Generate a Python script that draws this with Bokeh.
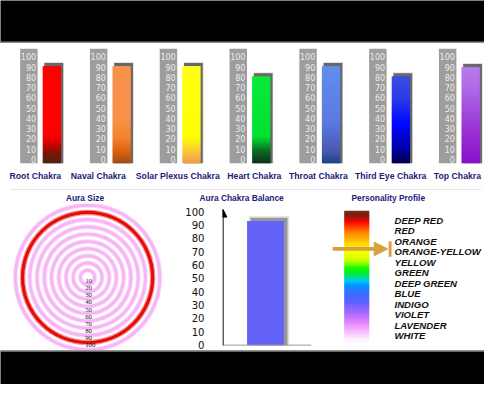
import numpy as np
from bokeh.plotting import figure
from bokeh.models import Range1d, FixedTicker, Arrow, NormalHead, TeeHead, Span
from bokeh.layouts import column, row
from bokeh.core.properties import value
from bokeh.embed import file_html
from bokeh.resources import INLINE

# ---------------- data ----------------
chakras = ["Root Chakra", "Naval Chakra", "Solar Plexus Chakra", "Heart Chakra",
           "Throat Chakra", "Third Eye Chakra", "Top Chakra"]
chakra_values = [91, 91, 91, 81, 91, 81, 90]
scale_ticks = [0, 10, 20, 30, 40, 50, 60, 70, 80, 90, 100]

aura_rings = [10, 20, 30, 40, 50, 60, 70, 80, 90, 100]
aura_size = 90

balance_value = 93

personality_levels = ["DEEP RED", "RED", "ORANGE", "ORANGE-YELLOW", "YELLOW", "GREEN",
                      "DEEP GREEN", "BLUE", "INDIGO", "VIOLET", "LAVENDER", "WHITE"]
personality = "ORANGE-YELLOW"

# ---------------- styles ----------------
NAVY = "#1c1c78"
FONT = "Liberation Sans"
GOLD = "#d6a13e"
TITLE_SIZE = "8.4px"

# small horizontal nudges of the chakra names (in panel widths)
label_nudge = [-0.055, -0.153, -0.014, 0.083, 0.0, 0.035, -0.008]

chakra_stops = [
    [(-4, "#4e2410"), (6, "#7c1408"), (16, "#d80000"), (24, "#ff0000"), (120, "#ff0000")],
    [(-4, "#9c4a18"), (8, "#de6210"), (22, "#f2862e"), (40, "#f8914a"), (120, "#f8924c")],
    [(-4, "#f59a45"), (8, "#fac93a"), (22, "#ffff00"), (85, "#ffff10"), (120, "#ffff70")],
    [(-4, "#0e3018"), (8, "#0a6a26"), (22, "#00e030"), (120, "#10f040")],
    [(-4, "#15458a"), (8, "#4a58b0"), (35, "#5a78e0"), (120, "#6898f8")],
    [(-4, "#000048"), (12, "#0000b0"), (35, "#0008ff"), (60, "#2c3ce8"), (120, "#5868d0")],
    [(-4, "#8a0ecc"), (30, "#9a34d8"), (70, "#b06ae8"), (120, "#c890f8")],
]

spectrum_stops = [  # (offset below the DEEP RED row in 1/11 row units, colour)
    (-10, "#6b3512"), (-5, "#7a2010"), (-1, "#c01008"), (2, "#ff0000"), (6, "#ff2a00"),
    (10, "#ff6000"), (15, "#ff9000"), (21, "#ffb800"), (27, "#ffe000"), (31, "#ffff00"),
    (39, "#e8ff00"), (45, "#a0ff00"), (50, "#20ff00"), (55, "#00f020"), (60, "#00e080"),
    (64, "#00c8ff"), (69, "#0098ff"), (74, "#2878ff"), (80, "#4468ff"), (86, "#5c62ff"),
    (91, "#8064ff"), (97, "#a46aff"), (103, "#c878ff"), (109, "#e88cff"), (114, "#f4a8ff"),
    (120, "#fbd0ff"), (125, "#fff0ff"), (130, "#ffffff")]


def hex2rgb(h):
    return [int(h[i:i + 2], 16) for i in (1, 3, 5)]


def gradient_image(stops, ys):
    """RGBA column image; row 0 is the bottom of the image."""
    pos = np.array([s[0] for s in stops], float)
    cols = np.array([hex2rgb(s[1]) for s in stops], float)
    img = np.zeros((len(ys), 1), dtype=np.uint32)
    view = img.view(dtype=np.uint8).reshape((len(ys), 1, 4))
    for k in range(3):
        view[:, 0, k] = np.round(np.interp(ys, pos, cols[:, k])).astype(np.uint8)
    view[:, 0, 3] = 255
    return img


def base_fig(**kw):
    p = figure(output_backend="svg", toolbar_location=None, **kw)
    p.outline_line_color = None
    p.grid.visible = False
    p.background_fill_color = "white"
    p.border_fill_color = "white"
    return p


def style_title(p, align="center", offset=0):
    p.title.align = align
    p.title.offset = offset
    p.title.standoff = 1
    p.title.text_font = FONT
    p.title.text_font_style = "bold"
    p.title.text_font_size = TITLE_SIZE
    p.title.text_color = NAVY


def band_fig(height, strip_top, strip_bottom, strip_color):
    p = base_fig(width=484, height=height, x_range=Range1d(0, 1), y_range=Range1d(0, height),
                 x_axis_location=None, y_axis_location=None, min_border=0)
    p.background_fill_color = "black"
    p.border_fill_color = "black"
    p.quad(left=0, right=1, bottom=strip_bottom, top=strip_top, fill_color=strip_color,
           line_color=None)
    return p


# ---------------- top band ----------------
top_band = band_fig(43, 2, 0, "#8c8c8c")

# ---------------- chakra row ----------------
PANEL_PX = 69.8
X_OFF = 38.7
Y0, Y1 = -3.9, 112.95
cf = base_fig(width=484, height=140,
              x_range=Range1d(-X_OFF / PANEL_PX, (484 - X_OFF) / PANEL_PX),
              y_range=Range1d(Y0, Y1), y_axis_location=None,
              min_border_left=0, min_border_right=0, min_border_top=0, min_border_bottom=11)
idx = np.arange(len(chakras))
vals = np.array(chakra_values, float)

col_l, col_r = -0.273, -0.023
bar_l, bar_r = 0.05, 0.313
cf.quad(left=idx + col_l, right=idx + col_r, bottom=Y0, top=107.8,
        fill_color="#9d9d9d", line_color=None)
tx = np.repeat(idx, len(scale_ticks)) - 0.045
ty = np.tile(scale_ticks, len(chakras))
cf.text(x=tx, y=ty, text=[str(t) for t in ty], text_align="right", text_baseline="middle",
        text_font=value("DejaVu Sans"), text_font_size="8px", text_color="#ececec")

# drop shadows
cf.quad(left=idx + bar_l + 0.02, right=idx + bar_r + 0.04, bottom=Y0, top=vals + 3.6,
        fill_color="#888888", fill_alpha=0.35, line_color=None)
cf.quad(left=idx + bar_l + 0.025, right=idx + bar_r + 0.03, bottom=Y0, top=vals + 3.0,
        fill_color="#555555", fill_alpha=0.85, line_color=None)

images, xs, dhs = [], [], []
for i, v in enumerate(chakra_values):
    n = 160
    ys = Y0 + (np.arange(n) + 0.5) * (v - Y0) / n
    images.append(gradient_image(chakra_stops[i], ys))
    xs.append(i + bar_l)
    dhs.append(v - Y0)
cf.image_rgba(image=images, x=xs, y=Y0, dw=bar_r - bar_l, dh=dhs)

name_ticks = [round(float(i + d), 4) for i, d in zip(idx, label_nudge)]
cf.xaxis.ticker = FixedTicker(ticks=name_ticks)
cf.xaxis.major_label_overrides = {t: n for t, n in zip(name_ticks, chakras)}
cf.xaxis.axis_line_color = None
cf.xaxis.major_tick_line_color = None
cf.xaxis.minor_tick_line_color = None
cf.xaxis.major_label_standoff = 1
cf.xaxis.major_label_text_font = FONT
cf.xaxis.major_label_text_font_style = "bold"
cf.xaxis.major_label_text_font_size = "8.7px"
cf.xaxis.major_label_text_color = NAVY

# ---------------- separator ----------------
sep = base_fig(width=484, height=7, x_range=Range1d(0, 484), y_range=Range1d(0, 7),
               x_axis_location=None, y_axis_location=None, min_border=0)
sep.quad(left=[9.7, 9.7], right=[481, 481], bottom=[4.7, 0.9], top=[5.7, 2.8],
         fill_color=["#9a9a9a", "#cccccc"], line_color=None)

# ---------------- bottom row: common frame borders ----------------
ROW_H = 160
TOP_B = 12

# ---------------- aura size ----------------
S = 0.723  # px per unit
CX, CY = 87.1, 86.5
af = base_fig(width=169, height=ROW_H, title="Aura Size",
              x_range=Range1d(-CX / S, (169 - CX) / S),
              y_range=Range1d(-(ROW_H - CY) / S, (CY - TOP_B) / S),
              x_axis_location=None, y_axis_location=None,
              min_border_left=0, min_border_right=0, min_border_top=TOP_B, min_border_bottom=0)
style_title(af, "center", 0)
pink = [r for r in aura_rings if r != aura_size]
af.annulus(x=0, y=0, inner_radius=[r - 3.4 for r in pink], outer_radius=[r + 3.4 for r in pink],
           fill_color="#fcdcfc", line_color=None)
af.annulus(x=0, y=0, inner_radius=[r - 2.0 for r in pink], outer_radius=[r + 2.0 for r in pink],
           fill_color="#f6b6f6", line_color=None)
af.annulus(x=0, y=0, inner_radius=aura_size - 3.8, outer_radius=aura_size + 3.8,
           fill_color="#f49a9a", line_color=None)
af.annulus(x=0, y=0, inner_radius=aura_size - 2.2, outer_radius=aura_size + 2.2,
           fill_color="#e60a0a", line_color=None)
af.text(x=-3.3, y=[-r for r in aura_rings], text=[str(r) for r in aura_rings],
        text_align="left", text_baseline="middle", y_offset=-3.9,
        text_font=value("Liberation Serif"), text_font_size="6.8px", text_color="#222222")

# ---------------- aura chakra balance ----------------
PXB = 1.344
BASE_Y = 154.6  # baseline position from the top of the panel
bf = base_fig(width=150, height=ROW_H, title="Aura Chakra Balance",
              x_range=Range1d(0, 1),
              y_range=Range1d(-(ROW_H - BASE_Y) / PXB, (BASE_Y - TOP_B) / PXB),
              x_axis_location=None,
              min_border_left=53, min_border_right=8, min_border_top=TOP_B, min_border_bottom=0)
style_title(bf, "left", -23)
bf.yaxis.ticker = FixedTicker(ticks=scale_ticks)
bf.yaxis.axis_line_color = None
bf.yaxis.major_tick_line_color = None
bf.yaxis.minor_tick_line_color = None
bf.yaxis.major_label_standoff = 12
bf.yaxis.major_label_text_font = "DejaVu Sans"
bf.yaxis.major_label_text_font_size = "10.1px"
bf.yaxis.major_label_text_color = "#111111"
bf.add_layout(Span(location=0, dimension="width", line_color="#9a9a9a", line_width=1))

bx, bw = 0.483, 0.414
bf.quad(left=bx - bw / 2 + 0.02, right=bx + bw / 2 + 0.06, bottom=0, top=balance_value + 3.6,
        fill_color="#999999", fill_alpha=0.3, line_color=None)
bf.quad(left=bx - bw / 2 + 0.04, right=bx + bw / 2 + 0.04, bottom=0, top=balance_value + 2.4,
        fill_color="#777777", fill_alpha=0.7, line_color=None)
bf.vbar(x=bx, width=bw, bottom=0, top=balance_value, fill_color="#6363f7", line_color=None)
bf.add_layout(Arrow(end=NormalHead(size=7.7, fill_color="black", line_color="black", line_width=1),
                    x_start=0.006, y_start=0, x_end=0.006, y_end=101.7,
                    line_color="black", line_width=1.2))

# ---------------- personality profile ----------------
ROWPX = 10.56
DR_Y = 28.9  # DEEP RED row from the top of the panel
pf = base_fig(width=165, height=ROW_H, title="Personality Profile",
              x_range=Range1d(-0.5, 170),
              y_range=Range1d(-(ROW_H - DR_Y) / ROWPX, (DR_Y - TOP_B) / ROWPX),
              x_axis_location=None, y_axis_location=None,
              min_border_left=0, min_border_right=0, min_border_top=TOP_B, min_border_bottom=0)
style_title(pf, "left", 32)
npx = np.arange(130, -10, -0.5)  # from bottom (white) to top (deep brown)
pf.image_rgba(image=[gradient_image(spectrum_stops, npx)], x=25, y=-130 / 11,
              dw=26, dh=140 / 11)
levels_y = -np.arange(len(personality_levels))
pf.text(x=77, y=levels_y, text=personality_levels, text_align="left", text_baseline="middle",
        text_font=value(FONT), text_font_style="bold italic", text_font_size="9.6px",
        text_color="#111111")
py = -personality_levels.index(personality) + 0.27
pf.add_layout(Arrow(end=NormalHead(size=13.5, fill_color=GOLD, line_color=GOLD, line_width=1),
                    x_start=13, y_start=py, x_end=70, y_end=py, line_color=GOLD, line_width=3.9))
pf.add_layout(Arrow(end=TeeHead(size=15.5, line_color=GOLD, line_width=2.9),
                    x_start=70, y_start=py, x_end=72.5, y_end=py, line_color=GOLD, line_width=0.1))

# ---------------- bottom band ----------------
bottom_band = band_fig(34, 34, 33, "#d0d0d0")

layout = column(top_band, cf, sep, row(af, bf, pf, spacing=0), bottom_band, spacing=0)

open("out.html", "w").write(file_html(layout, INLINE, title="Chakra Chart"))
